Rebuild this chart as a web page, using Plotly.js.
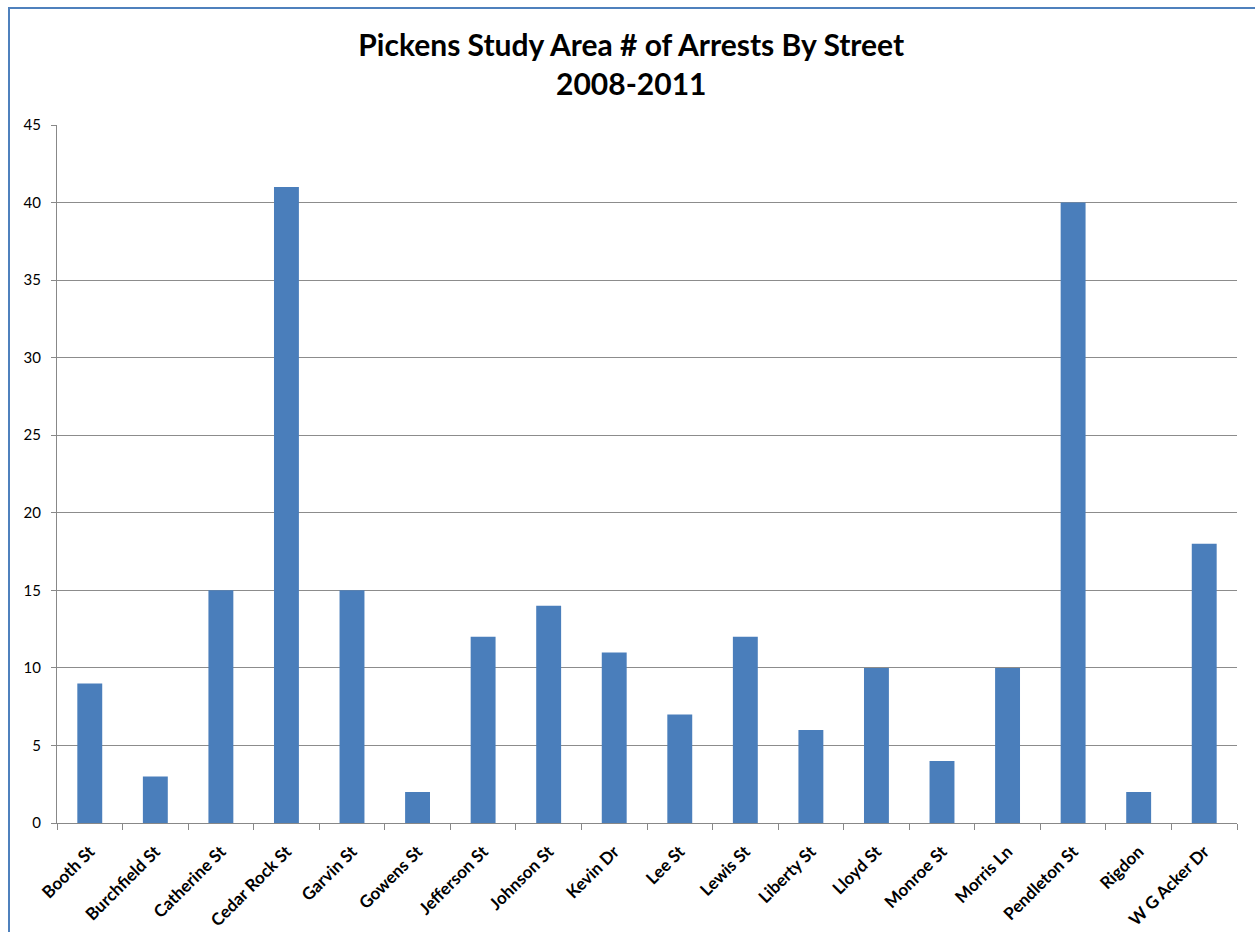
<!DOCTYPE html>
<html>
<head>
<meta charset="utf-8">
<script src="https://cdn.plot.ly/plotly-3.0.1.min.js"></script>
<style>
  html, body { margin: 0; padding: 0; background: #ffffff; overflow: hidden; }
  #frame { position: absolute; left: 8px; top: 7px; width: 1300px; height: 1000px;
           border-left: 2px solid #4f81bd; border-top: 2px solid #4f81bd; pointer-events: none; z-index: 2; }
  #chart { position: absolute; left: 0; top: 0; width: 1255px; height: 932px; }
</style>
</head>
<body>
<div id="chart"></div>
<div id="frame"></div>
<script>
// Arrest counts per street, 2008-2011
const streets = ["Booth St", "Burchfield St", "Catherine St", "Cedar Rock St", "Garvin St",
  "Gowens St", "Jefferson St", "Johnson St", "Kevin Dr", "Lee St", "Lewis St", "Liberty St",
  "Lloyd St", "Monroe St", "Morris Ln", "Pendleton St", "Rigdon", "W G Acker Dr"];
const arrests = [9, 3, 15, 41, 15, 2, 12, 14, 11, 7, 12, 6, 10, 4, 10, 40, 2, 18];
const yTicks = [0, 5, 10, 15, 20, 25, 30, 35, 40, 45];

const trace = {
  type: "bar",
  x: streets,
  y: arrests,
  marker: { color: "#4a7ebb", line: { width: 0 } },
  hoverinfo: "x+y"
};

const layout = {
  width: 1255,
  height: 932,
  paper_bgcolor: "rgba(0,0,0,0)",
  plot_bgcolor: "#ffffff",
  margin: { l: 57, r: 18, t: 125, b: 109 },
  bargap: 0.62,
  showlegend: false,
  title: {
    text: "<b>Pickens Study Area # of Arrests By Street<br>2008-2011</b>",
    font: { family: "Lato, 'Open Sans', sans-serif", size: 30, color: "#000000" },
    x: 0.503, xanchor: "center",
    yref: "container",
    y: 0.94, yanchor: "middle"
  },
  xaxis: {
    type: "category",
    tickangle: -45,
    tickfont: { family: "Lato, sans-serif", size: 17, color: "#000000", weight: "bold" },
    showline: true, linecolor: "#888888", linewidth: 1,
    ticks: "outside", tickson: "boundaries", ticklen: 6, tickcolor: "#888888",
    ticklabelstandoff: 11,
    showgrid: false,
    fixedrange: true
  },
  yaxis: {
    range: [0, 45],
    tickvals: yTicks,
    tickfont: { family: "Lato, sans-serif", size: 15, color: "#000000" },
    showline: true, linecolor: "#888888", linewidth: 1,
    ticks: "outside", ticklen: 5, tickcolor: "#888888",
    ticklabelstandoff: 7,
    showgrid: true, gridcolor: "#8c8c8c", gridwidth: 1,
    zeroline: false,
    fixedrange: true
  }
};

Plotly.newPlot("chart", [trace], layout, { displayModeBar: false, staticPlot: true });
</script>
</body>
</html>
